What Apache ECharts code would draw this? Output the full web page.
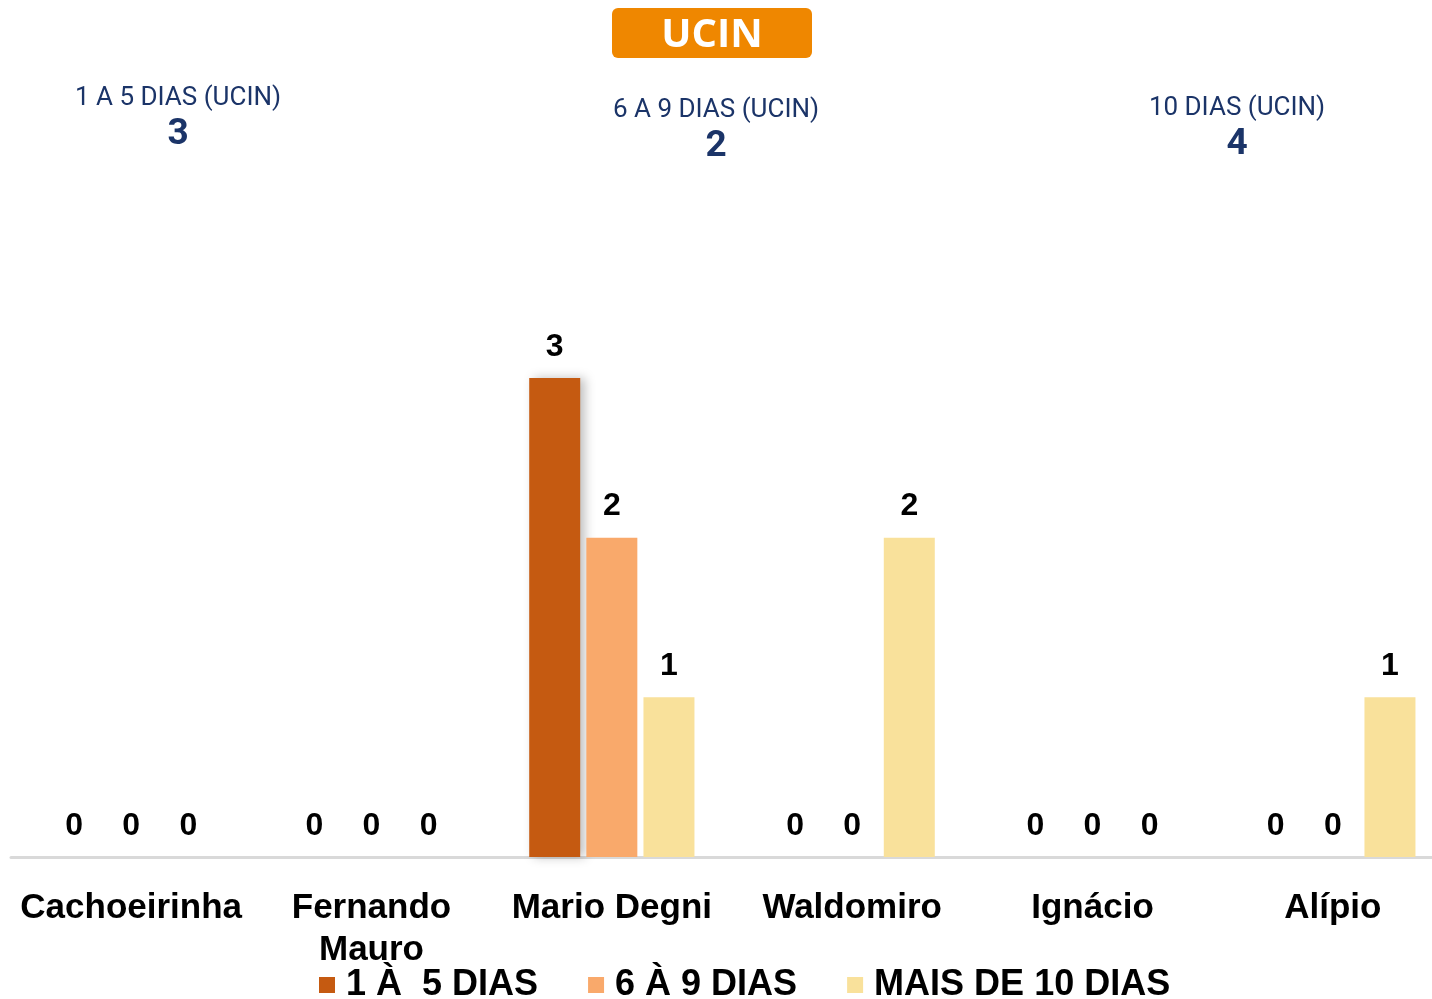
<!DOCTYPE html>
<html>
<head>
<meta charset="utf-8">
<script src="https://cdn.jsdelivr.net/npm/echarts@6/dist/echarts.min.js"></script>
<style>
  html, body { margin: 0; padding: 0; background: #fff; }
  #chart { width: 1432px; height: 999px; }
</style>
</head>
<body>
<div id="chart"></div>
<script>
// dados
const unidades = ['Cachoeirinha', 'Fernando\nMauro', 'Mario Degni', 'Waldomiro', 'Ignácio', 'Alípio'];
const dias1a5 = [0, 0, 3, 0, 0, 0];
const dias6a9 = [0, 0, 2, 0, 0, 0];
const mais10 = [0, 0, 1, 2, 0, 1];
const nomesSeries = ['1 À  5 DIAS', '6 À 9 DIAS', 'MAIS DE 10 DIAS'];
const resumoTitulos = ['1 A 5 DIAS (UCIN)', '6 A 9 DIAS (UCIN)', '10 DIAS (UCIN)'];
const resumoValores = [3, 2, 4];

const cores = ['#C55A11', '#F9A96B', '#F9E19B'];
const azul = '#1B3468';

const myChart = echarts.init(document.getElementById('chart'));

// posicoes dos resumos no topo
const resumoPos = [[178, 98], [716, 110], [1237, 108]];
const resumoGraficos = [];
resumoTitulos.forEach(function (t, i) {
  resumoGraficos.push({
    type: 'text', x: resumoPos[i][0], y: resumoPos[i][1],
    style: { text: t, fill: azul, font: '26px Roboto', align: 'center', verticalAlign: 'middle' }
  });
  resumoGraficos.push({
    type: 'text', x: resumoPos[i][0], y: resumoPos[i][1] + 37,
    style: { text: String(resumoValores[i]), fill: azul, font: 'bold 37px Roboto', align: 'center', verticalAlign: 'middle' }
  });
});

const labelStyle = {
  show: true,
  position: 'top',
  distance: 15,
  color: '#000',
  fontFamily: 'Liberation Sans',
  fontWeight: 'bold',
  fontSize: 32
};

const option = {
  animation: false,
  graphic: [
    {
      type: 'rect', shape: { x: 612, y: 8, width: 200, height: 50, r: 6 },
      style: { fill: '#EF8700' }
    },
    {
      type: 'text', x: 712, y: 36,
      style: { text: 'UCIN', fill: '#fff', font: 'bold 40px "Open Sans"', align: 'center', verticalAlign: 'middle' }
    }
  ].concat(resumoGraficos),
  legend: {
    bottom: -9,
    left: 314,
    itemWidth: 16,
    itemHeight: 16,
    itemGap: 50,
    icon: 'rect',
    textStyle: {
      fontFamily: 'Liberation Sans',
      fontWeight: 'bold',
      fontSize: 36,
      color: '#000',
      padding: [0, 0, 0, 6]
    },
    data: nomesSeries
  },
  grid: { left: 11, width: 1442, top: 378, bottom: 142, containLabel: false, outerBoundsMode: 'none' },
  xAxis: {
    type: 'category',
    data: unidades,
    axisLine: { lineStyle: { color: '#D9D9D9', width: 3 } },
    axisTick: { show: false },
    axisLabel: {
      color: '#000',
      fontFamily: 'Liberation Sans',
      fontWeight: 'bold',
      fontSize: 35,
      margin: 30,
      lineHeight: 42,
      interval: 0
    }
  },
  yAxis: {
    type: 'value',
    min: 0,
    max: 3,
    show: false,
    splitLine: { show: false }
  },
  series: [
    {
      name: nomesSeries[0], type: 'bar', data: dias1a5, barWidth: 51, barGap: '12%',
      itemStyle: { color: cores[0], shadowColor: 'rgba(0,0,0,0.25)', shadowBlur: 10, shadowOffsetX: 5 },
      label: labelStyle
    },
    {
      name: nomesSeries[1], type: 'bar', data: dias6a9, barWidth: 51, barGap: '12%',
      itemStyle: { color: cores[1] },
      label: labelStyle
    },
    {
      name: nomesSeries[2], type: 'bar', data: mais10, barWidth: 51, barGap: '12%',
      itemStyle: { color: cores[2] },
      label: labelStyle
    }
  ]
};

myChart.setOption(option);
</script>
</body>
</html>
